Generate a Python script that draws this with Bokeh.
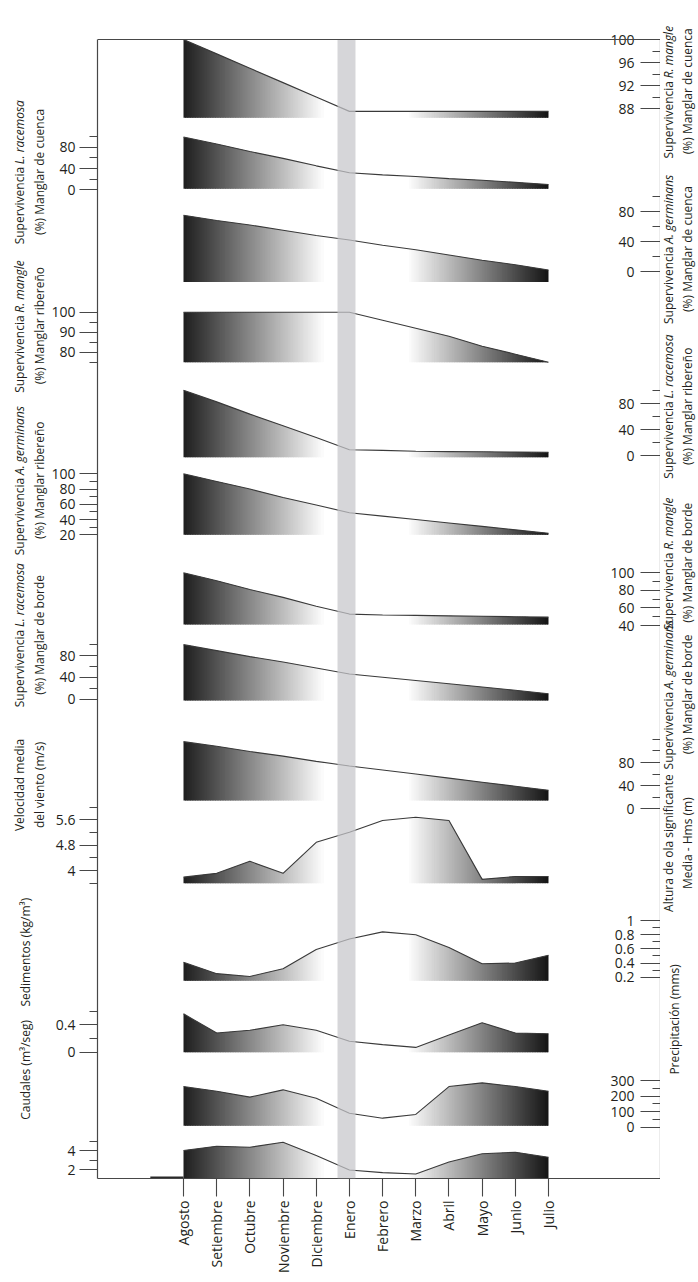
import math
import numpy as np
from bokeh.plotting import figure
from bokeh.layouts import row
from bokeh.models import (Range1d, LinearAxis, FixedTicker, Label, BoxAnnotation,
                          ColumnDataSource, Span)
from bokeh.embed import file_html
from bokeh.resources import INLINE

# ---------------- data ----------------
meses = ["Agosto", "Setiembre", "Octubre", "Noviembre", "Diciembre", "Enero",
         "Febrero", "Marzo", "Abril", "Mayo", "Junio", "Julio"]
mes_idx = list(range(len(meses)))

sup_rmangle_cuenca = [100, 97.5, 95.0, 92.5, 90.0, 87.5, 87.5, 87.5, 87.5, 87.5, 87.5, 87.5]
sup_lracemosa_cuenca = [99, 86, 72, 59, 45, 32, 28, 25, 21, 18, 14, 10]
sup_agerminans_cuenca = [75, 68, 62, 55, 48, 42, 35, 29, 22, 15, 9, 2]
sup_rmangle_ribereno = [100, 100, 100, 100, 100, 100, 96, 92, 88, 83, 79, 75]
sup_lracemosa_ribereno = [101, 83, 64, 46, 28, 9, 8, 6.5, 6, 5.7, 5.4, 5]
sup_agerminans_ribereno = [100, 90, 80, 69, 59, 49, 44.5, 40, 35.5, 31, 26.5, 22]
sup_rmangle_borde = [100, 91, 81, 72, 62, 53, 52, 51.5, 51, 50.5, 50, 49.5]
sup_lracemosa_borde = [100, 89, 78, 68, 57, 46, 40, 34, 28, 22, 16, 9.6]
sup_agerminans_borde = [116, 108, 99, 91, 82, 74, 67, 60, 53, 46, 39, 32]
viento = [3.79, 3.91, 4.29, 3.91, 4.89, 5.21, 5.58, 5.68, 5.58, 3.72, 3.81, 3.81]
ola = [0.41, 0.25, 0.21, 0.32, 0.59, 0.74, 0.84, 0.80, 0.62, 0.39, 0.40, 0.51]
sedimentos = [0.56, 0.28, 0.32, 0.40, 0.32, 0.16, 0.11, 0.07, 0.25, 0.43, 0.28, 0.27]
precipitacion = [261, 231, 193, 240, 186, 90, 58, 82, 261, 285, 261, 231]
caudales = [4.0, 4.45, 4.34, 4.87, 3.47, 1.95, 1.67, 1.53, 2.78, 3.65, 3.82, 3.29]
caudales_julio_previo = 1.15

# ---------------- layout (page pixels) ----------------
H = 1280
LEFT_W, RIGHT_X0 = 48, 660
TOTAL_W = 698
PLOT_TOP = 24.0
FRAME_TOP, FRAME_BOTTOM = 39.0, 1178.0
FRAME_LEFT, FRAME_RIGHT = 97.0, 660.0
X_AGO, X_JUL = 183.0, 548.0
PPM = (X_JUL - X_AGO) / 11.0


def px2x(px):
    return (px - X_AGO) / PPM


FONT = "Open Sans"
TXT = "#231f20"
AXC = "#474747"
LINE = "#3a3a3a"
DARK_L, DARK_R = 30, 20
G1, G2 = 4.25, 6.75
DX = 0.05
TFS = 12.0           # title font size (px)
W_SUP = 6.713 * TFS  # width of "Supervivencia " in Open Sans

# key, values, fill base, side, anchor a, anchor b, major ticks, minor ticks,
# title (line-1 plain part, line-1 italic part, line 2), title centre y
panels = [
    ("rm_c", sup_rmangle_cuenca, 86.4, "right", (100, 39.0), (88, 108.0), [88, 92, 96, 100], [90, 94, 98],
     ("Supervivencia", "R. mangle", "(%) Manglar de cuenca"), 74),
    ("lr_c", sup_lracemosa_cuenca, 2, "left", (80, 146.7), (0, 189.3), [0, 40, 80], [20, 60, 100],
     ("Supervivencia", "L. racemosa", "(%) Manglar de cuenca"), 163.5),
    ("ag_c", sup_agerminans_cuenca, -14, "right", (80, 211.0), (0, 271.0), [0, 40, 80], [20, 60, 100],
     ("Supervivencia", "A. germinans", "(%) Manglar de cuenca"), 249),
    ("rm_r", sup_rmangle_ribereno, 75, "left", (100, 311.7), (80, 351.7), [80, 90, 100], [75, 85, 95],
     ("Supervivencia", "R. mangle", "(%) Manglar ribereño"), 334),
    ("lr_r", sup_lracemosa_ribereno, -2.6, "right", (80, 403.3), (0, 455.0), [0, 40, 80], [20, 60, 100],
     ("Supervivencia", "L. racemosa", "(%) Manglar ribereño"), 423.5),
    ("ag_r", sup_agerminans_ribereno, 20, "left", (100, 473.3), (20, 534.3), [20, 40, 60, 80, 100], [30, 50, 70, 90],
     ("Supervivencia", "A. germinans", "(%) Manglar ribereño"), 505.5),
    ("rm_b", sup_rmangle_borde, 41, "right", (100, 572.3), (40, 625.0), [40, 60, 80, 100], [50, 70, 90],
     ("Supervivencia", "R. mangle", "(%) Manglar de borde"), 597),
    ("lr_b", sup_lracemosa_borde, -2.8, "left", (80, 655.0), (0, 698.5), [0, 40, 80], [20, 60, 100],
     ("Supervivencia", "L. racemosa", "(%) Manglar de borde"), 677),
    ("ag_b", sup_agerminans_borde, 14.3, "right", (80, 762.0), (0, 808.3), [0, 40, 80], [20, 60, 100, 120],
     ("Supervivencia", "A. germinans", "(%) Manglar de borde"), 743),
    ("vi", viento, 3.6, "left", (5.6, 819.3), (4.0, 870.0), [4, 4.8, 5.6], [3.6, 4.4, 5.2, 6.0],
     ("Velocidad media", None, "del viento (m/s)"), 843.5),
    ("ola", ola, 0.15, "right", (1.0, 920.0), (0.2, 976.7), [0.2, 0.4, 0.6, 0.8, 1.0], [0.3, 0.5, 0.7, 0.9],
     ("Altura de ola significante", None, "Media - Hms (m)"), 908),
    ("sed", sedimentos, 0, "left", (0.4, 1024.3), (0, 1051.7), [0, 0.4], [0.2, 0.6],
     ("Sedimentos (kg/m³)", None, None), 1029),
    ("pre", precipitacion, 10, "right", (300, 1080.0), (0, 1126.7), [0, 100, 200, 300], [50, 150, 250],
     ("Precipitación (mms)", None, None), 1103.5),
    ("cau", caudales, 1, "left", (4, 1150.0), (2, 1169.0), [2, 4], [1, 3, 5],
     ("Caudales (m³/seg)", None, None), 1159.5),
]

MAIN_W = RIGHT_X0 - LEFT_W
p = figure(width=MAIN_W, height=H, output_backend="svg", toolbar_location=None,
           x_range=Range1d(px2x(FRAME_LEFT), px2x(FRAME_RIGHT)),
           y_range=Range1d(FRAME_BOTTOM, PLOT_TOP),
           x_axis_type=None, y_axis_type=None,
           min_border_left=int(FRAME_LEFT - LEFT_W), min_border_right=0,
           min_border_top=int(PLOT_TOP), min_border_bottom=int(H - FRAME_BOTTOM))
p.outline_line_color = None
p.background_fill_color = "white"
p.border_fill_color = "white"


def title_fig(x0, x1):
    f = figure(width=int(x1 - x0), height=H, output_backend="svg", toolbar_location=None,
               x_range=Range1d(x0, x1), y_range=Range1d(H, 0),
               x_axis_type=None, y_axis_type=None, min_border=0)
    f.outline_line_color = None
    f.background_fill_color = "white"
    f.border_fill_color = "white"
    return f


lt = title_fig(0, LEFT_W)
rt = title_fig(RIGHT_X0, TOTAL_W)

extra = {}
geo = {}
for key, vals, base, side, (va, ya), (vb, yb), major, minor, title, ty in panels:
    s = (yb - ya) / (va - vb)
    y0 = ya + s * va
    extra[key] = Range1d(start=(y0 - FRAME_BOTTOM) / s, end=(y0 - PLOT_TOP) / s)
    geo[key] = (y0, s)
p.extra_y_ranges = extra


def gradient_patches(vals, base):
    xs, ys, cols = [], [], []
    for a, b, dark_at, dark in ((0.0, G1, 0.0, DARK_L), (G2, 11.0, 11.0, DARK_R)):
        n = int(round((b - a) / DX))
        edges = np.linspace(a, b, n + 1)
        for i in range(n):
            xa = edges[i]
            xb = min(edges[i + 1] + DX * 0.6, b)
            xm = 0.5 * (edges[i] + edges[i + 1])
            t = abs(xm - dark_at) / (b - a)
            g = int(round(dark + (255 - dark) * t))
            if g >= 254:
                continue
            ta, tb = np.interp([xa, xb], mes_idx, vals)
            xs.append([xa, xb, xb, xa])
            ys.append([base, base, tb, ta])
            cols.append("#%02x%02x%02x" % (g, g, g))
    return xs, ys, cols


def title_label(fig, x, y, text, align="center", style="normal"):
    fig.add_layout(Label(x=x, y=y, text=text, angle=math.pi / 2, text_align=align,
                         text_baseline="middle", text_font=FONT, text_font_size=f"{TFS}px",
                         text_font_style=style, text_color=TXT))


def add_title(fig, xs, ty, title):
    pre, ital, line2 = title
    if line2 is None:
        title_label(fig, xs[2], ty, pre)
        return
    if ital is None:
        title_label(fig, xs[0], ty, pre)
    else:
        w_it = 0.48 * TFS * len(ital)
        total = W_SUP + w_it
        split = ty + total / 2 - W_SUP
        title_label(fig, xs[0], split + 3.0, pre, align="right")
        title_label(fig, xs[0], split, ital, align="left", style="italic")
    title_label(fig, xs[1], ty, line2)


left_major, left_minor, left_lab = [], [], {}
right_major, right_minor, right_lab = [], [], {}
XR = px2x(FRAME_RIGHT)

for key, vals, base, side, (va, ya), (vb, yb), major, minor, title, ty in panels:
    y0, s = geo[key]
    xs, ys, cols = gradient_patches(vals, base)
    p.patches(xs="xs", ys="ys", fill_color="c", line_color=None,
              source=ColumnDataSource(dict(xs=xs, ys=ys, c=cols)), y_range_name=key)
    p.line(mes_idx, vals, y_range_name=key, line_color=LINE, line_width=1.1)

    pos_major = [round(y0 - s * t, 3) for t in major]
    pos_minor = [round(y0 - s * t, 3) for t in minor]
    if side == "left":
        left_major += pos_major
        left_minor += pos_minor
        for pp, t in zip(pos_major, major):
            left_lab[pp] = f"{t:g}"
        add_title(lt, (19, 39, 25), ty, title)
    else:
        right_major += pos_major
        right_minor += pos_minor
        for pp in pos_major:
            right_lab[pp] = ""
        for t in major:
            p.add_layout(Label(x=XR, y=t, y_range_name=key, x_offset=-26, text=f"{t:g}",
                               text_align="right", text_baseline="middle", text_font=FONT,
                               text_font_size="14px", text_color=TXT))
        add_title(rt, (668, 687, 674), ty, title)

# earlier July value of discharge (short segment before Agosto)
p.line([-1, 0], [caudales_julio_previo, caudales_julio_previo], y_range_name="cau",
       line_color="#2a2a2a", line_width=2)

# highlighted period around Enero
p.add_layout(BoxAnnotation(left=px2x(337), right=px2x(355), top=FRAME_TOP, bottom=FRAME_BOTTOM,
                           fill_color="#c6c6cb", fill_alpha=0.72, line_color=None))

# top edge of the frame
p.add_layout(Span(location=FRAME_TOP, dimension="width", line_color=AXC, line_width=1.2))


def style_axis(ax):
    ax.axis_line_color = AXC
    ax.axis_line_width = 1.2
    ax.major_tick_line_color = AXC
    ax.minor_tick_line_color = AXC
    ax.major_tick_line_width = 1.1
    ax.minor_tick_line_width = 1.1
    ax.major_label_text_font = FONT
    ax.major_label_text_font_size = "14px"
    ax.major_label_text_color = TXT


left_ax = LinearAxis(ticker=FixedTicker(ticks=left_major, minor_ticks=left_minor),
                     major_label_overrides=left_lab, bounds=(FRAME_TOP, FRAME_BOTTOM))
style_axis(left_ax)
left_ax.major_tick_out, left_ax.major_tick_in = 18, 0
left_ax.minor_tick_out, left_ax.minor_tick_in = 8, 0
left_ax.major_label_standoff = 4
p.add_layout(left_ax, "left")

right_ax = LinearAxis(ticker=FixedTicker(ticks=right_major, minor_ticks=right_minor),
                      major_label_overrides=right_lab, bounds=(FRAME_TOP, FRAME_BOTTOM))
style_axis(right_ax)
right_ax.major_tick_out, right_ax.major_tick_in = 0, 20
right_ax.minor_tick_out, right_ax.minor_tick_in = 0, 8
right_ax.major_label_text_font_size = "0px"
right_ax.major_label_standoff = 0
p.add_layout(right_ax, "right")

bottom_ax = LinearAxis(ticker=FixedTicker(ticks=mes_idx, minor_ticks=[]),
                       major_label_overrides={i: m for i, m in zip(mes_idx, meses)})
style_axis(bottom_ax)
bottom_ax.major_tick_out, bottom_ax.major_tick_in = 18, 0
bottom_ax.minor_tick_out, bottom_ax.minor_tick_in = 0, 0
bottom_ax.major_label_orientation = math.pi / 2
bottom_ax.major_label_standoff = 4
p.add_layout(bottom_ax, "below")

layout = row(lt, p, rt)
open("out.html", "w").write(file_html(layout, INLINE))
